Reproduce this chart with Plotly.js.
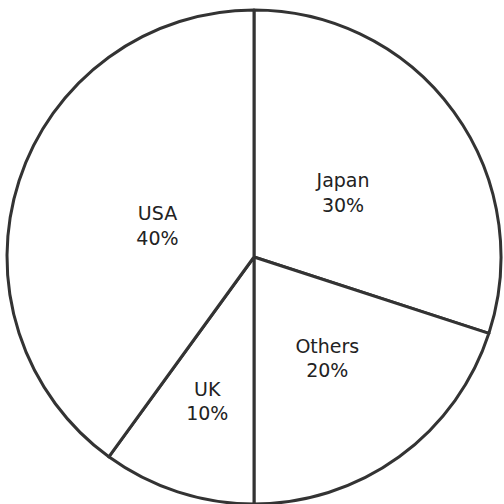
<!DOCTYPE html>
<html>
<head>
<meta charset="utf-8">
<script src="https://cdn.plot.ly/plotly-3.0.1.min.js"></script>
<style>html,body{margin:0;padding:0;background:#fff;}#chart{width:504px;height:504px;}</style>
</head>
<body>
<div id="chart"></div>
<script>
const categories = ["Japan", "Others", "UK", "USA"];
const shares = [30, 20, 10, 40];

const common = {
  type: "pie",
  labels: categories,
  values: shares,
  sort: false,
  direction: "clockwise",
  rotation: 0,
  hoverinfo: "none"
};

const slices = Object.assign({}, common, {
  textinfo: "none",
  marker: {colors: ["#ffffff", "#ffffff", "#ffffff", "#ffffff"], line: {color: "#333333", width: 3}},
  domain: {x: [7/504, 501/504], y: [0, 1 - 10/504]}
});

const labelsLayer = Object.assign({}, common, {
  textinfo: "label+percent",
  textposition: "inside",
  insidetextorientation: "horizontal",
  marker: {colors: ["rgba(0,0,0,0)", "rgba(0,0,0,0)", "rgba(0,0,0,0)", "rgba(0,0,0,0)"], line: {width: 0}},
  textfont: {family: "DejaVu Sans, Verdana, sans-serif", size: 19, color: "#222222"},
  domain: {x: [56/504, 452/504], y: [49/504, 445/504]}
});

Plotly.newPlot("chart", [slices, labelsLayer], {
  width: 504, height: 504,
  margin: {l: 0, r: 0, t: 0, b: 0},
  showlegend: false,
  paper_bgcolor: "#ffffff"
}, {staticPlot: true});
</script>
</body>
</html>
